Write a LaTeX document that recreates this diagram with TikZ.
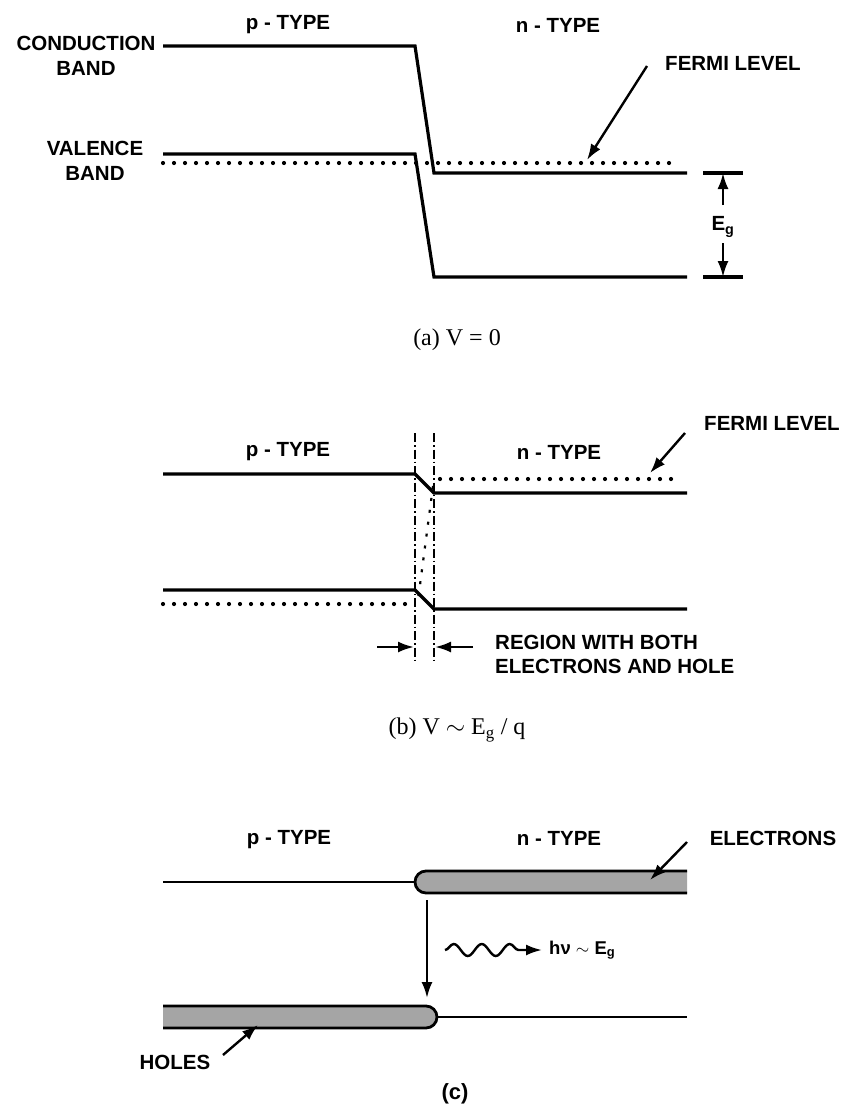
\documentclass[tikz,border=0pt]{standalone}
\usepackage{fontspec}
\setmainfont{Liberation Sans}
\newfontfamily\capfont{Liberation Serif}
\usetikzlibrary{positioning, arrows.meta, decorations.pathmorphing}
\definecolor{carrierGray}{RGB}{165,165,165}
\tikzset{
  lbl/.style={font=\bfseries\fontsize{20.5}{25}\selectfont, inner sep=0pt, align=center},
  captxt/.style={font=\capfont\fontsize{24}{28}\selectfont, inner sep=0pt},
  band/.style={line width=3.2pt, line join=miter},
  fermi/.style={line width=4.2pt, line cap=round, dash pattern=on 0pt off 11pt},
  sepline/.style={line width=2pt, dash pattern=on 9pt off 3pt on 1.5pt off 3pt},
  ptr/.style={-{Latex[length=16pt,width=11pt]}, line width=2.4pt},
  thinband/.style={line width=2.6pt},
  pill/.style={line width=2.8pt},
  photon/.style={ptr, decorate, decoration={snake, amplitude=6pt, segment length=28pt, post length=15pt}},
}
\begin{document}
\begin{tikzpicture}[x=1pt, y=-1pt]
  \useasboundingbox (0,0) rectangle (843,1109);

  % (a) V = 0
  \node[lbl] (pa) at (288,25) {p - TYPE};
  \node[lbl] (na) at (558,25) {n - TYPE};
  \node[lbl] (cb) at (86,56) {CONDUCTION\\BAND};
  \node[lbl] (vb) at (95,161) {VALENCE\\BAND};
  \node[lbl] (fla) at (733,63) {FERMI LEVEL};
  \draw[band] (163,46) -- (415,46) -- (434,173) -- (687,173);
  \draw[band] (163,154) -- (415,154) -- (434,277) -- (687,277);
  \draw[fermi] (163,163) -- (677,163);
  \coordinate (fa0) at (647,66);
  \coordinate (fa1) at (587,160);
  \draw[ptr] (fa0) -- (fa1);
  \draw[band] (703,173) -- (743,173);
  \draw[band] (703,277) -- (743,277);
  \node[lbl] (eg) at (723,227) {E\textsubscript{g}};
  \coordinate (egt) at (723,173);
  \coordinate (egb) at (723,277);
  \draw[ptr] (723,205) -- (egt);
  \draw[ptr] (723,243) -- (egb);
  \node[captxt] (capa) at (457,340) {(a) V = 0};

  % (b) V ~ Eg/q
  \node[lbl] (pb) at (288,452) {p - TYPE};
  \node[lbl] (nb) at (559,452) {n - TYPE};
  \node[lbl] (flb) at (772,423) {FERMI LEVEL};
  \draw[band] (163,474) -- (415,474) -- (434,493) -- (687,493);
  \draw[band] (163,590) -- (415,590) -- (434,609) -- (687,609);
  \draw[fermi] (440,479) -- (680,479);
  \draw[fermi] (163,604) -- (411,604);
  \draw[line width=2.2pt, dash pattern=on 3pt off 9pt] (433,486) -- (418,600);
  \draw[sepline] (415,433) -- (415,662);
  \draw[sepline] (434,433) -- (434,662);
  \coordinate (fb0) at (685,433);
  \coordinate (fb1) at (650,473);
  \draw[ptr] (fb0) -- (fb1);
  \coordinate (rl) at (414,647);
  \coordinate (rr) at (435,647);
  \draw[ptr] (377,647) -- (rl);
  \draw[ptr] (473,647) -- (rr);
  \node[lbl, anchor=west, align=left, font=\bfseries\fontsize{20.5}{24}\selectfont] (reg) at (495,654) {REGION WITH BOTH\\ELECTRONS AND HOLE};
  \node[captxt] (capb) at (457,730) {(b) V $\sim$ E\textsubscript{g} / q};

  % (c)
  \node[lbl] (pc) at (289,840) {p - TYPE};
  \node[lbl] (nc) at (559,838) {n - TYPE};
  \node[lbl] (el) at (773,838) {ELECTRONS};
  \node[lbl] (ho) at (175,1062) {HOLES};
  \draw[thinband] (163,882) -- (415,882);
  \fill[carrierGray] (687,871) -- (426,871) arc[start angle=270, end angle=90, radius=11] -- (687,893) -- cycle;
  \draw[pill] (687,871) -- (426,871) arc[start angle=270, end angle=90, radius=11] -- (687,893);
  \fill[carrierGray] (163,1006) -- (426,1006) arc[start angle=-90, end angle=90, radius=11] -- (163,1028) -- cycle;
  \draw[pill] (163,1006) -- (426,1006) arc[start angle=-90, end angle=90, radius=11] -- (163,1028);
  \draw[thinband] (437,1017) -- (687,1017);
  \coordinate (ea0) at (687,842);
  \coordinate (ea1) at (650,880);
  \draw[ptr] (ea0) -- (ea1);
  \coordinate (ha0) at (223,1055);
  \coordinate (ha1) at (258,1025);
  \draw[ptr] (ha0) -- (ha1);
  \coordinate (rc0) at (427,900);
  \coordinate (rc1) at (427,998);
  \draw[ptr] (rc0) -- (rc1);
  \coordinate (w0) at (445,950);
  \coordinate (w1) at (542,950);
  \draw[photon] (w0) -- (w1);
  \node[lbl, anchor=west, font=\bfseries\fontsize{18.5}{22}\selectfont] (hv) at (549,950) {hν $\sim$ E\textsubscript{g}};
  \node[lbl, font=\bfseries\fontsize{22}{26}\selectfont] (capc) at (455,1094) {(c)};
\end{tikzpicture}
\end{document}
